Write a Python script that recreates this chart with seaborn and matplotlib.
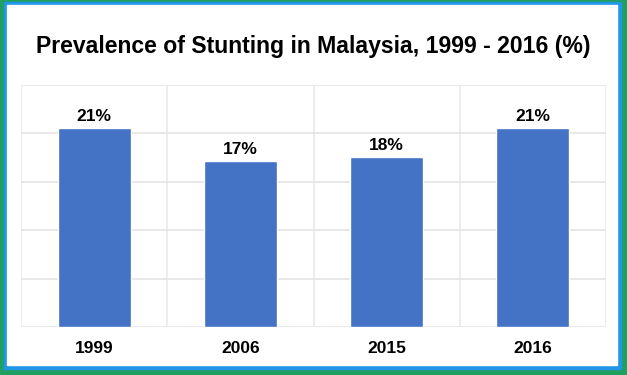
import seaborn as sns
import pandas as pd
from matplotlib import pyplot as plt
from matplotlib.patches import Rectangle

years = ['1999', '2006', '2015', '2016']
stunting = [20.6, 17.2, 17.6, 20.6]
labels = ['21%', '17%', '18%', '21%']

data = pd.DataFrame({'year': years, 'value': stunting})

sns.set_theme(style="white")
plt.rcParams['font.family'] = ['Liberation Sans', 'DejaVu Sans']

fig = plt.figure(figsize=(6.27, 3.75), dpi=100)
W, H = 627, 375
# frame: green outer, blue inner, white panel
fig.patches.append(Rectangle((0, 0), 1, 1, transform=fig.transFigure, color='#1fa060', zorder=-3))
fig.patches.append(Rectangle((4 / W, 6 / H), 617 / W, 367 / H, transform=fig.transFigure,
                             color='#2196e8', zorder=-2))
fig.patches.append(Rectangle((7 / W, 10 / H), 610 / W, 360 / H, transform=fig.transFigure,
                             color='white', zorder=-1))

ax = fig.add_axes([21 / W, 1 - 327 / H, 585 / W, 242 / H])
ax.set_facecolor('none')
sns.barplot(x='year', y='value', data=data, ax=ax, color='#4472C4', width=0.5,
            saturation=1, zorder=3)

ax.set_ylim(0, 25)
ax.set_xlim(-0.5, 3.5)
ax.set_yticks([0, 5, 10, 15, 20, 25])
ax.set_xticks([-0.5, 0.5, 1.5, 2.5, 3.5], minor=True)
ax.grid(True, axis='y', color='#e6e6e6', linewidth=1.3, zorder=0)
ax.grid(True, axis='x', which='minor', color='#ececec', linewidth=1.3, zorder=0)
ax.grid(False, axis='x', which='major')
ax.tick_params(axis='y', left=False, labelleft=False)
ax.tick_params(axis='x', which='both', bottom=False, length=0, pad=10)
for lbl in ax.get_xticklabels():
    lbl.set_fontweight('bold')
    lbl.set_fontsize(12.5)
    lbl.set_color('black')
for s in ax.spines.values():
    s.set_visible(False)
ax.set_xlabel('')
ax.set_ylabel('')

for i, (v, t) in enumerate(zip(stunting, labels)):
    ax.annotate(t, (i, v), xytext=(0, 2.5), textcoords='offset points', ha='center',
                va='bottom', fontsize=12.5, fontweight='bold', color='black')

fig.text(0.5, 1 - 47 / H, 'Prevalence of Stunting in Malaysia, 1999 - 2016 (%)',
         ha='center', va='center', fontsize=16.6, fontweight='bold', color='black')

fig.savefig('out.png', dpi=100)
